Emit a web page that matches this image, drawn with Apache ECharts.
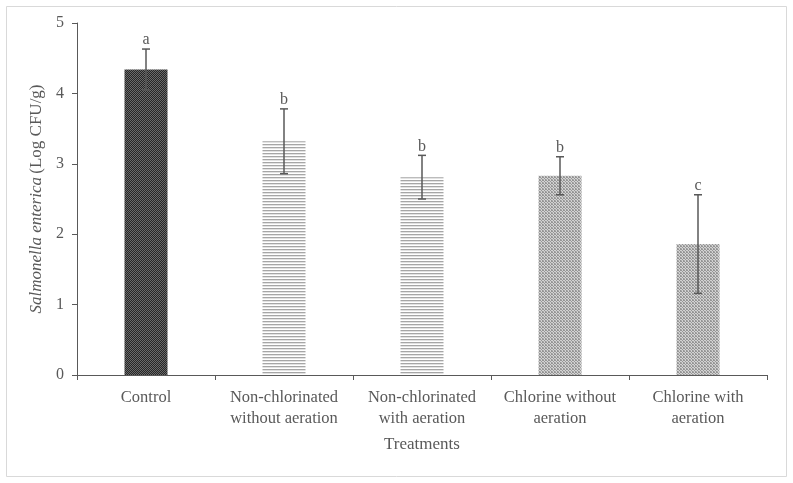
<!DOCTYPE html>
<html>
<head>
<meta charset="utf-8">
<script src="https://cdn.jsdelivr.net/npm/echarts@6/dist/echarts.min.js"></script>
<style>html,body{margin:0;padding:0;background:#fff;}#main{width:793px;height:483px;}</style>
</head>
<body>
<div id="main"></div>
<script>
var categories = ['Control', 'Non-chlorinated\nwithout aeration', 'Non-chlorinated\nwith aeration', 'Chlorine without\naeration', 'Chlorine with\naeration'];
var means = [4.34, 3.32, 2.81, 2.83, 1.86];
var errors = [0.29, 0.46, 0.31, 0.27, 0.70];
var letters = ['a', 'b', 'b', 'b', 'c'];
var yTicks = [0, 1, 2, 3, 4, 5];

function makePattern(w, h, draw) {
  var c = document.createElement('canvas');
  c.width = w; c.height = h;
  var ctx = c.getContext('2d');
  draw(ctx);
  return {image: c, repeat: 'repeat'};
}
var patDark = makePattern(2, 2, function (ctx) {
  ctx.fillStyle = '#262626'; ctx.fillRect(0, 0, 2, 2);
  ctx.fillStyle = '#6a6a6a'; ctx.fillRect(0, 0, 1, 1); ctx.fillRect(1, 1, 1, 1);
});
var patLines = makePattern(4, 3, function (ctx) {
  ctx.fillStyle = '#ffffff'; ctx.fillRect(0, 0, 4, 3);
  ctx.fillStyle = '#a6a6a6'; ctx.fillRect(0, 0, 4, 1);
  ctx.fillStyle = '#e2e2e2'; ctx.fillRect(0, 1, 4, 1);
});
var patDots = makePattern(3, 3, function (ctx) {
  ctx.fillStyle = '#d2d2d2'; ctx.fillRect(0, 0, 3, 3);
  ctx.fillStyle = '#959595'; ctx.fillRect(0, 0, 1, 1); ctx.fillRect(1, 1, 1, 1);
  ctx.fillRect(2, 2, 1, 1); ctx.fillRect(2, 0, 1, 1);
  ctx.fillStyle = '#b0b0b0'; ctx.fillRect(0, 2, 1, 1);
});
var patterns = [patDark, patLines, patLines, patDots, patDots];

var barData = means.map(function (v, i) {
  return {value: v, itemStyle: {color: patterns[i]}};
});
var errData = means.map(function (v, i) {
  return [i, v, errors[i], letters[i]];
});

var FONT = 'Liberation Serif';
var TXT = '#595959';
var chart = echarts.init(document.getElementById('main'), null, {renderer: 'canvas'});
chart.setOption({
  animation: false,
  backgroundColor: '#fff',
  graphic: [{
    type: 'rect', shape: {x: 6.5, y: 6.5, width: 780, height: 470},
    style: {fill: 'none', stroke: '#d9d9d9', lineWidth: 1}, silent: true
  }],
  grid: {left: 77, right: 26, top: 23, bottom: 108},
  xAxis: {
    type: 'category',
    data: categories,
    name: 'Treatments',
    nameLocation: 'middle',
    nameGap: 61,
    nameTextStyle: {fontFamily: FONT, fontSize: 17, color: TXT},
    axisLine: {lineStyle: {color: '#595959', width: 1}},
    axisTick: {show: true, alignWithLabel: false, length: 5, lineStyle: {color: '#595959'}},
    axisLabel: {fontFamily: FONT, fontSize: 16.5, color: TXT, margin: 12, lineHeight: 21, interval: 0}
  },
  yAxis: {
    type: 'value',
    min: 0, max: 5, interval: 1,
    name: '{i|Salmonella enterica} {n|(Log CFU/g)}',
    nameLocation: 'middle',
    nameGap: 31,
    nameRotate: 90,
    nameTextStyle: {
      rich: {
        i: {fontFamily: FONT, fontSize: 17, fontStyle: 'italic', color: TXT},
        n: {fontFamily: FONT, fontSize: 17, color: TXT}
      }
    },
    splitLine: {show: false},
    axisLine: {show: true, lineStyle: {color: '#595959', width: 1}},
    axisTick: {show: true, length: 5, lineStyle: {color: '#595959'}},
    axisLabel: {fontFamily: FONT, fontSize: 16, color: TXT, margin: 13,
      formatter: function (v) { return yTicks.indexOf(v) >= 0 ? String(v) : ''; }}
  },
  series: [{
    type: 'bar',
    data: barData,
    barWidth: 43,
    itemStyle: {borderWidth: 0}
  }, {
    type: 'custom',
    data: errData,
    z: 10,
    renderItem: function (params, api) {
      var i = api.value(0), m = api.value(1), e = api.value(2);
      var top = api.coord([i, m + e]);
      var bot = api.coord([i, m - e]);
      var cap = 4;
      var st = {stroke: '#595959', lineWidth: 1.5};
      return {
        type: 'group',
        children: [
          {type: 'line', shape: {x1: top[0], y1: top[1], x2: bot[0], y2: bot[1]}, style: st},
          {type: 'line', shape: {x1: top[0] - cap, y1: top[1], x2: top[0] + cap, y2: top[1]}, style: st},
          {type: 'line', shape: {x1: bot[0] - cap, y1: bot[1], x2: bot[0] + cap, y2: bot[1]}, style: st},
          {type: 'text', x: top[0], y: top[1] - 1, style: {
            text: letters[params.dataIndex], fill: TXT, fontFamily: FONT, fontSize: 16,
            align: 'center', verticalAlign: 'bottom'}}
        ]
      };
    }
  }]
});
</script>
</body>
</html>
